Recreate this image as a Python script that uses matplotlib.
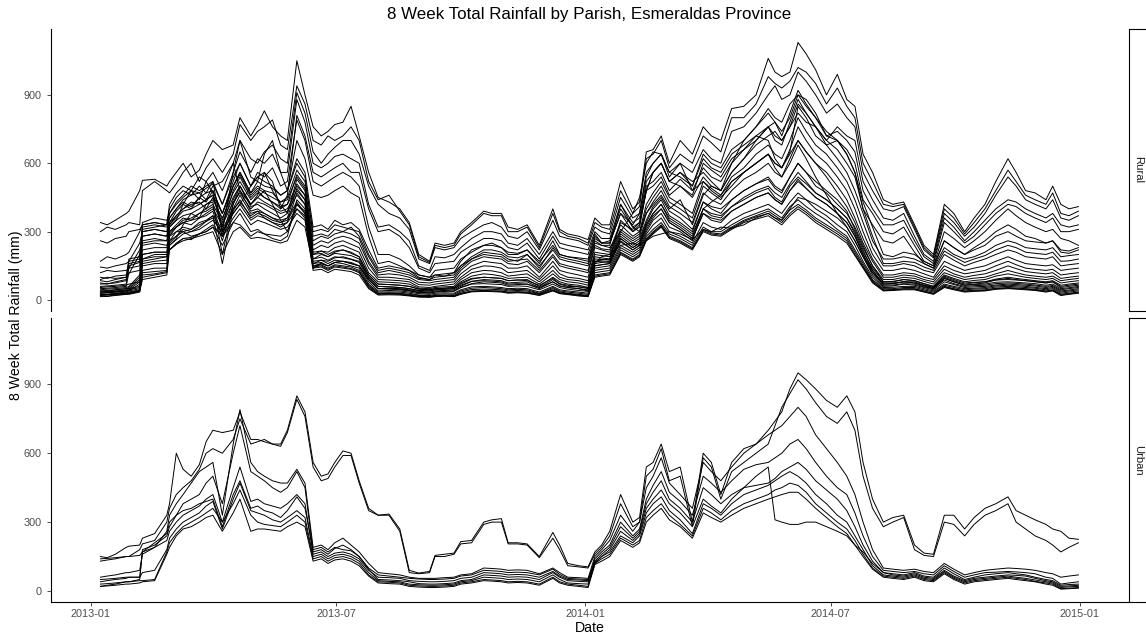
"""8 week total rainfall per parish, Esmeraldas province, faceted rural / urban."""

import matplotlib

matplotlib.use("Agg")
import matplotlib.dates as mdates
import pandas as pd
from matplotlib import pyplot as plt

plt.rcParams["font.family"] = ["Liberation Sans", "DejaVu Sans"]

# sample dates shared by every parish series (10 per row)
DATES = [
    "2013-01-08", "2013-01-13", "2013-01-19", "2013-01-27", "2013-01-29",
    "2013-02-06", "2013-02-08", "2013-02-17", "2013-02-26", "2013-02-28",
    "2013-03-05", "2013-03-10", "2013-03-16", "2013-03-22", "2013-03-27",
    "2013-04-01", "2013-04-08", "2013-04-16", "2013-04-21", "2013-04-29",
    "2013-05-04", "2013-05-09", "2013-05-15", "2013-05-21", "2013-05-26",
    "2013-06-02", "2013-06-08", "2013-06-14", "2013-06-20", "2013-06-25",
    "2013-06-30", "2013-07-06", "2013-07-12", "2013-07-18", "2013-07-25",
    "2013-08-01", "2013-08-09", "2013-08-17", "2013-08-24", "2013-08-31",
    "2013-09-08", "2013-09-12", "2013-09-19", "2013-09-26", "2013-10-01",
    "2013-10-09", "2013-10-18", "2013-10-24", "2013-10-31", "2013-11-05",
    "2013-11-12", "2013-11-19", "2013-11-28", "2013-12-08", "2013-12-13",
    "2013-12-19", "2013-12-27", "2014-01-03", "2014-01-08", "2014-01-13",
    "2014-01-19", "2014-01-27", "2014-02-05", "2014-02-10", "2014-02-15",
    "2014-02-20", "2014-02-26", "2014-03-04", "2014-03-12", "2014-03-21",
    "2014-03-29", "2014-04-04", "2014-04-11", "2014-04-19", "2014-04-28",
    "2014-05-07", "2014-05-16", "2014-05-21", "2014-05-26", "2014-06-01",
    "2014-06-07", "2014-06-13", "2014-06-20", "2014-06-28", "2014-07-06",
    "2014-07-13", "2014-07-19", "2014-07-25", "2014-08-01", "2014-08-09",
    "2014-08-16", "2014-08-24", "2014-09-01", "2014-09-08", "2014-09-15",
    "2014-09-23", "2014-09-30", "2014-10-08", "2014-10-15", "2014-10-23",
    "2014-10-31", "2014-11-09", "2014-11-15", "2014-11-22", "2014-11-29",
    "2014-12-07", "2014-12-12", "2014-12-18", "2014-12-24", "2014-12-31",
]

# ---- rural parishes (mm over the previous 8 weeks) ----
rural_01 = [340, 330, 350, 380, 390, 480, 525, 530, 500, 520,
            560, 600, 540, 570, 640, 700, 660, 680, 800, 720,
            770, 830, 760, 720, 700, 1050, 900, 760, 720, 740,
            770, 780, 850, 720, 560, 450, 430, 400, 340, 200,
            170, 250, 240, 250, 300, 340, 390, 380, 380, 320,
            310, 330, 240, 400, 310, 290, 280, 265, 360, 330,
            330, 520, 400, 430, 650, 660, 720, 600, 700, 640,
            760, 720, 700, 840, 850, 900, 1060, 1000, 980, 1000,
            1130, 1080, 1010, 900, 990, 880, 850, 640, 560, 440,
            420, 430, 330, 240, 200, 420, 380, 300, 360, 420,
            520, 620, 560, 480, 470, 440, 500, 420, 400, 410]
rural_02 = [300, 320, 310, 330, 340, 330, 480, 520, 480, 470,
            510, 560, 600, 520, 580, 620, 560, 640, 770, 700,
            740, 760, 790, 680, 660, 940, 860, 700, 680, 720,
            700, 720, 760, 700, 520, 440, 460, 390, 330, 190,
            165, 240, 230, 240, 290, 330, 380, 370, 370, 300,
            300, 320, 230, 380, 300, 280, 270, 250, 340, 320,
            310, 480, 380, 410, 620, 640, 700, 580, 640, 600,
            720, 690, 650, 800, 800, 860, 980, 950, 930, 960,
            1020, 1000, 950, 860, 930, 850, 800, 600, 520, 420,
            410, 420, 320, 230, 190, 400, 360, 290, 340, 400,
            480, 570, 520, 460, 440, 420, 470, 380, 370, 390]
rural_03 = [260, 250, 270, 280, 300, 310, 330, 340, 330, 420,
            470, 500, 480, 540, 520, 560, 480, 600, 700, 620,
            600, 650, 680, 620, 600, 910, 820, 650, 600, 640,
            670, 700, 700, 640, 500, 420, 380, 360, 310, 180,
            160, 230, 220, 230, 270, 300, 330, 340, 320, 280,
            270, 300, 220, 350, 280, 270, 260, 240, 320, 300,
            290, 450, 360, 380, 560, 600, 640, 540, 600, 560,
            660, 620, 600, 740, 760, 820, 900, 940, 880, 900,
            1000, 960, 900, 820, 860, 800, 760, 560, 480, 400,
            390, 410, 310, 220, 185, 380, 340, 280, 320, 380,
            460, 540, 500, 440, 420, 400, 440, 360, 350, 370]
rural_04 = [170, 190, 180, 200, 210, 300, 330, 340, 330, 400,
            450, 480, 460, 500, 470, 520, 420, 560, 650, 560,
            620, 600, 640, 560, 560, 880, 780, 600, 580, 600,
            630, 640, 620, 600, 420, 320, 330, 300, 260, 150,
            130, 190, 185, 200, 230, 270, 300, 300, 290, 250,
            240, 270, 200, 300, 250, 240, 230, 220, 300, 270,
            270, 420, 340, 360, 520, 560, 600, 520, 560, 520,
            560, 520, 480, 560, 620, 700, 760, 720, 700, 760,
            820, 780, 760, 700, 760, 720, 700, 520, 440, 360,
            350, 380, 280, 200, 170, 360, 320, 260, 300, 350,
            400, 440, 430, 400, 380, 360, 380, 330, 320, 330]
rural_05 = [145, 140, 150, 160, 170, 250, 300, 310, 300, 380,
            420, 450, 480, 470, 440, 500, 520, 600, 480, 420,
            460, 560, 520, 400, 460, 810, 720, 560, 540, 560,
            580, 600, 560, 560, 400, 300, 310, 280, 230, 140,
            120, 160, 165, 170, 210, 240, 270, 270, 260, 230,
            220, 250, 180, 280, 230, 220, 210, 200, 290, 250,
            260, 400, 320, 340, 500, 520, 560, 480, 530, 480,
            580, 540, 520, 600, 660, 700, 760, 780, 740, 800,
            900, 850, 800, 720, 740, 700, 650, 480, 400, 330,
            330, 350, 260, 190, 160, 340, 300, 250, 280, 330,
            380, 420, 410, 380, 360, 340, 360, 300, 300, 310]
rural_06 = [120, 130, 125, 130, 140, 220, 280, 290, 280, 360,
            400, 430, 410, 450, 430, 480, 380, 520, 600, 500,
            560, 540, 580, 500, 520, 790, 700, 520, 500, 520,
            540, 560, 540, 500, 320, 200, 200, 180, 150, 110,
            100, 130, 135, 140, 180, 210, 240, 240, 230, 200,
            200, 220, 160, 260, 200, 190, 185, 180, 280, 250,
            250, 380, 300, 320, 480, 500, 540, 460, 500, 450,
            540, 500, 480, 560, 620, 680, 720, 740, 700, 760,
            860, 820, 760, 680, 700, 660, 600, 440, 380, 300,
            290, 320, 240, 170, 150, 300, 270, 230, 260, 300,
            350, 400, 370, 340, 320, 300, 310, 270, 260, 240]
rural_07 = [100, 95, 105, 110, 115, 200, 250, 260, 260, 340,
            370, 400, 420, 430, 400, 450, 350, 500, 560, 470,
            520, 500, 490, 460, 480, 700, 620, 460, 450, 460,
            480, 500, 470, 450, 280, 160, 170, 150, 130, 100,
            90, 110, 105, 120, 150, 180, 210, 205, 200, 180,
            170, 200, 140, 230, 190, 180, 170, 160, 260, 240,
            240, 420, 320, 300, 380, 420, 460, 400, 440, 330,
            460, 500, 480, 600, 700, 760, 840, 800, 780, 860,
            900, 880, 820, 720, 700, 640, 560, 400, 330, 260,
            250, 280, 210, 160, 140, 260, 230, 200, 230, 260,
            300, 330, 310, 280, 270, 250, 260, 220, 215, 230]
rural_08 = [85, 80, 90, 100, 170, 180, 340, 360, 350, 380,
            430, 460, 500, 480, 500, 520, 300, 560, 700, 540,
            520, 640, 700, 560, 480, 620, 560, 320, 330, 310,
            350, 330, 340, 310, 220, 140, 150, 140, 130, 110,
            100, 110, 115, 120, 170, 220, 240, 250, 230, 210,
            205, 220, 170, 240, 200, 190, 180, 170, 270, 250,
            250, 380, 330, 380, 540, 600, 640, 560, 540, 500,
            640, 600, 580, 660, 700, 760, 820, 780, 720, 820,
            920, 860, 800, 740, 700, 640, 560, 430, 320, 200,
            190, 210, 200, 170, 150, 260, 230, 200, 220, 240,
            280, 300, 280, 260, 255, 250, 260, 210, 205, 220]
rural_09 = [70, 72, 75, 85, 150, 165, 310, 320, 330, 360,
            400, 440, 460, 470, 490, 510, 420, 540, 600, 500,
            540, 520, 500, 460, 480, 600, 540, 280, 290, 280,
            310, 300, 320, 280, 190, 120, 130, 120, 110, 90,
            85, 90, 95, 100, 140, 180, 200, 195, 190, 170,
            175, 180, 130, 200, 160, 150, 140, 130, 240, 225,
            220, 340, 310, 340, 480, 560, 600, 520, 500, 460,
            600, 570, 540, 620, 660, 720, 760, 700, 680, 780,
            880, 820, 760, 700, 660, 600, 540, 400, 280, 160,
            160, 170, 165, 145, 130, 215, 190, 165, 180, 195,
            220, 240, 230, 210, 205, 200, 210, 170, 172, 180]
rural_10 = [90, 100, 95, 100, 180, 190, 320, 330, 320, 340,
            390, 420, 400, 450, 470, 480, 380, 500, 560, 470,
            500, 480, 470, 430, 450, 570, 520, 300, 310, 300,
            330, 320, 310, 300, 200, 130, 140, 130, 120, 95,
            90, 100, 105, 110, 150, 190, 220, 220, 210, 190,
            185, 200, 150, 220, 180, 170, 160, 150, 250, 240,
            230, 300, 380, 450, 600, 650, 640, 560, 600, 480,
            520, 480, 450, 500, 560, 600, 640, 600, 580, 650,
            850, 800, 720, 680, 620, 560, 480, 380, 260, 180,
            180, 190, 180, 160, 140, 230, 200, 180, 190, 210,
            240, 260, 250, 230, 225, 220, 230, 190, 195, 200]
rural_11 = [75, 70, 80, 90, 160, 170, 300, 310, 300, 330,
            370, 400, 430, 420, 440, 460, 320, 480, 540, 450,
            480, 450, 430, 400, 420, 550, 500, 260, 280, 270,
            290, 300, 290, 270, 170, 110, 115, 110, 100, 78,
            75, 80, 85, 90, 130, 170, 190, 185, 180, 160,
            155, 170, 120, 190, 150, 140, 130, 120, 230, 220,
            210, 330, 280, 300, 420, 470, 520, 450, 420, 380,
            520, 490, 460, 540, 580, 640, 680, 640, 620, 700,
            800, 740, 680, 640, 580, 520, 440, 340, 230, 150,
            150, 160, 150, 130, 120, 200, 175, 150, 165, 180,
            200, 220, 210, 190, 185, 180, 190, 150, 155, 160]
rural_12 = [60, 62, 65, 70, 140, 150, 280, 290, 280, 320,
            350, 420, 480, 440, 520, 470, 300, 380, 420, 500,
            540, 560, 480, 420, 380, 530, 480, 240, 260, 250,
            270, 280, 270, 250, 160, 100, 100, 95, 90, 68,
            65, 70, 75, 80, 115, 150, 170, 165, 160, 140,
            140, 150, 100, 170, 130, 120, 110, 100, 210, 205,
            200, 310, 270, 290, 400, 450, 500, 430, 400, 360,
            500, 470, 440, 520, 560, 600, 640, 600, 580, 660,
            760, 700, 640, 600, 540, 480, 400, 300, 200, 130,
            130, 140, 130, 115, 100, 170, 150, 130, 140, 150,
            170, 190, 175, 160, 155, 150, 155, 130, 135, 140]
rural_13 = [50, 52, 55, 60, 120, 130, 260, 270, 260, 300,
            330, 360, 350, 380, 390, 410, 280, 440, 500, 410,
            420, 400, 380, 360, 380, 510, 460, 220, 240, 230,
            250, 260, 245, 230, 140, 90, 88, 85, 80, 58,
            55, 60, 65, 70, 100, 135, 150, 148, 140, 120,
            125, 130, 90, 150, 115, 100, 95, 85, 200, 195,
            190, 300, 260, 280, 380, 430, 480, 410, 380, 340,
            470, 440, 420, 480, 530, 560, 600, 560, 540, 620,
            700, 650, 600, 560, 500, 440, 360, 270, 180, 110,
            110, 120, 115, 100, 90, 150, 130, 115, 122, 130,
            150, 170, 155, 140, 135, 130, 135, 110, 115, 120]
rural_14 = [45, 48, 50, 55, 60, 110, 240, 250, 240, 280,
            320, 340, 330, 360, 370, 390, 260, 420, 480, 390,
            400, 380, 360, 340, 360, 490, 440, 200, 215, 210,
            230, 240, 225, 210, 120, 80, 78, 75, 70, 52,
            50, 55, 58, 60, 90, 120, 130, 128, 120, 105,
            110, 115, 80, 130, 100, 90, 85, 75, 190, 185,
            180, 350, 300, 330, 480, 560, 600, 520, 560, 500,
            620, 580, 560, 640, 680, 720, 700, 620, 580, 640,
            700, 650, 600, 540, 470, 410, 340, 250, 170, 100,
            100, 110, 105, 90, 80, 135, 115, 100, 108, 115,
            130, 150, 138, 125, 120, 115, 120, 95, 100, 105]
rural_15 = [40, 38, 45, 50, 55, 100, 220, 230, 230, 260,
            300, 320, 310, 340, 350, 370, 160, 400, 460, 380,
            390, 360, 340, 320, 340, 470, 420, 180, 200, 190,
            210, 220, 205, 190, 110, 70, 68, 65, 60, 48,
            45, 50, 52, 55, 80, 105, 115, 112, 105, 95,
            98, 100, 70, 115, 90, 80, 75, 65, 180, 178,
            175, 280, 240, 260, 340, 400, 440, 370, 340, 300,
            430, 400, 380, 440, 480, 510, 530, 490, 470, 540,
            600, 560, 520, 480, 440, 390, 310, 230, 150, 90,
            90, 100, 95, 82, 70, 120, 105, 90, 96, 100,
            115, 130, 120, 110, 105, 100, 105, 85, 90, 95]
rural_16 = [35, 36, 40, 45, 50, 90, 200, 210, 210, 240,
            270, 330, 380, 360, 420, 430, 200, 420, 500, 420,
            450, 480, 420, 350, 300, 400, 360, 160, 175, 170,
            185, 190, 180, 170, 100, 60, 58, 55, 50, 42,
            40, 45, 47, 50, 70, 92, 100, 98, 95, 85,
            88, 90, 60, 100, 80, 70, 65, 55, 170, 168,
            165, 270, 230, 250, 330, 380, 420, 350, 320, 280,
            400, 370, 360, 410, 440, 470, 490, 450, 430, 500,
            540, 510, 470, 440, 400, 360, 290, 210, 140, 80,
            80, 90, 85, 72, 60, 110, 95, 80, 86, 90,
            105, 115, 108, 100, 95, 90, 95, 75, 80, 85]
rural_17 = [30, 32, 35, 40, 45, 80, 180, 200, 200, 220,
            245, 260, 270, 280, 290, 300, 200, 300, 320, 270,
            275, 270, 260, 250, 260, 350, 320, 150, 160, 150,
            165, 170, 160, 150, 90, 50, 52, 50, 45, 38,
            35, 40, 42, 45, 60, 82, 90, 88, 85, 75,
            78, 80, 55, 90, 70, 60, 58, 50, 160, 190,
            200, 240, 250, 240, 260, 280, 290, 300, 290, 265,
            310, 300, 320, 315, 330, 360, 380, 360, 350, 400,
            450, 440, 420, 390, 360, 320, 260, 190, 120, 75,
            75, 80, 80, 66, 55, 100, 85, 70, 76, 80,
            92, 100, 95, 90, 85, 80, 85, 65, 70, 75]
rural_18 = [25, 26, 30, 35, 40, 70, 170, 180, 190, 220,
            250, 270, 265, 290, 300, 320, 240, 340, 380, 300,
            310, 290, 285, 280, 300, 420, 380, 140, 160, 150,
            165, 170, 160, 150, 90, 50, 48, 45, 40, 32,
            30, 35, 38, 40, 55, 72, 80, 78, 75, 65,
            68, 70, 50, 80, 62, 55, 50, 40, 150, 155,
            160, 260, 220, 240, 320, 370, 400, 340, 310, 270,
            380, 350, 340, 390, 420, 450, 470, 440, 420, 480,
            520, 490, 450, 420, 380, 340, 280, 200, 130, 70,
            72, 80, 75, 62, 50, 95, 80, 65, 70, 75,
            88, 95, 90, 85, 80, 75, 80, 60, 65, 70]
rural_19 = [20, 22, 25, 30, 30, 40, 150, 160, 160, 300,
            320, 340, 350, 360, 380, 400, 330, 430, 470, 400,
            430, 420, 400, 380, 390, 460, 420, 170, 175, 160,
            175, 170, 165, 150, 80, 40, 42, 40, 35, 28,
            25, 30, 32, 30, 45, 58, 60, 58, 55, 50,
            52, 50, 35, 60, 45, 40, 35, 30, 140, 145,
            150, 240, 210, 230, 300, 350, 380, 320, 300, 260,
            400, 430, 460, 520, 560, 600, 640, 580, 540, 600,
            680, 620, 540, 460, 380, 320, 260, 190, 110, 60,
            62, 70, 65, 55, 45, 80, 68, 55, 58, 60,
            66, 70, 68, 65, 62, 55, 60, 40, 44, 50]
rural_20 = [30, 33, 35, 40, 40, 50, 130, 140, 140, 280,
            300, 300, 280, 290, 300, 320, 280, 340, 330, 280,
            300, 290, 270, 260, 280, 440, 400, 160, 165, 150,
            165, 160, 150, 140, 70, 35, 36, 35, 30, 22,
            20, 25, 27, 25, 40, 52, 55, 53, 50, 45,
            47, 45, 30, 55, 40, 35, 30, 25, 130, 135,
            140, 230, 200, 220, 290, 330, 360, 300, 280, 250,
            340, 320, 310, 350, 380, 400, 420, 400, 380, 430,
            470, 440, 400, 370, 330, 300, 240, 170, 100, 55,
            56, 60, 60, 50, 40, 70, 60, 50, 52, 55,
            62, 65, 63, 60, 56, 50, 55, 35, 40, 45]
rural_21 = [15, 16, 20, 25, 25, 35, 120, 125, 130, 260,
            280, 300, 310, 330, 345, 360, 290, 390, 440, 360,
            380, 370, 350, 340, 350, 420, 390, 150, 155, 140,
            155, 150, 145, 130, 65, 30, 32, 30, 25, 20,
            18, 20, 22, 20, 35, 46, 48, 47, 45, 40,
            42, 40, 28, 50, 36, 30, 25, 20, 120, 125,
            130, 220, 190, 210, 280, 310, 340, 290, 270, 240,
            320, 300, 300, 330, 360, 380, 400, 380, 360, 410,
            440, 410, 380, 350, 310, 280, 220, 160, 90, 50,
            50, 55, 55, 45, 35, 65, 55, 45, 48, 50,
            57, 60, 58, 55, 52, 45, 50, 30, 35, 40]
rural_22 = [40, 42, 45, 50, 50, 60, 180, 190, 190, 320,
            350, 370, 380, 400, 420, 440, 360, 470, 520, 440,
            470, 450, 430, 410, 420, 500, 460, 200, 205, 190,
            205, 200, 195, 180, 100, 60, 58, 55, 50, 42,
            40, 45, 48, 50, 65, 82, 85, 83, 80, 70,
            72, 70, 55, 80, 62, 55, 50, 45, 160, 165,
            170, 270, 230, 250, 330, 380, 420, 360, 330, 290,
            400, 380, 370, 410, 450, 480, 500, 470, 450, 510,
            560, 520, 470, 440, 400, 360, 300, 220, 130, 70,
            72, 80, 75, 64, 55, 95, 80, 65, 68, 70,
            78, 80, 78, 75, 72, 65, 70, 50, 54, 60]
rural_23 = [25, 24, 28, 32, 35, 45, 100, 110, 120, 240,
            265, 290, 300, 310, 330, 350, 300, 380, 420, 350,
            370, 360, 340, 330, 340, 400, 370, 140, 145, 130,
            145, 140, 135, 120, 60, 28, 29, 28, 22, 16,
            15, 18, 20, 18, 30, 40, 42, 41, 40, 35,
            37, 35, 25, 45, 32, 28, 22, 18, 110, 115,
            120, 210, 180, 200, 270, 300, 330, 280, 260, 230,
            310, 295, 290, 320, 350, 370, 390, 370, 350, 395,
            420, 395, 360, 330, 300, 270, 210, 150, 85, 45,
            46, 50, 50, 40, 30, 60, 50, 40, 43, 45,
            52, 55, 53, 50, 47, 40, 45, 25, 30, 35]
rural_24 = [55, 58, 60, 65, 70, 80, 200, 210, 210, 330,
            360, 390, 400, 420, 440, 460, 380, 500, 550, 460,
            490, 470, 450, 430, 440, 540, 490, 210, 215, 200,
            215, 220, 210, 190, 110, 70, 68, 65, 60, 48,
            45, 50, 52, 55, 75, 95, 100, 98, 95, 85,
            88, 85, 65, 95, 72, 65, 58, 55, 170, 175,
            180, 290, 250, 270, 350, 410, 450, 390, 360, 310,
            430, 410, 400, 440, 480, 510, 540, 500, 480, 540,
            600, 560, 500, 470, 420, 380, 320, 240, 150, 80,
            82, 90, 85, 72, 60, 105, 90, 75, 78, 80,
            88, 90, 88, 85, 82, 75, 80, 55, 60, 65]
rural_25 = [18, 17, 22, 26, 28, 38, 90, 100, 110, 220,
            245, 270, 275, 290, 310, 330, 280, 360, 400, 330,
            350, 340, 325, 310, 320, 380, 350, 130, 135, 120,
            135, 130, 125, 110, 50, 22, 23, 22, 18, 13,
            12, 15, 17, 15, 25, 36, 38, 37, 35, 30,
            32, 30, 20, 40, 28, 24, 18, 15, 100, 105,
            110, 200, 170, 190, 260, 290, 320, 270, 250, 220,
            300, 285, 280, 310, 340, 355, 370, 350, 330, 370,
            400, 375, 340, 310, 280, 250, 195, 140, 75, 40,
            42, 45, 45, 35, 25, 55, 45, 35, 38, 40,
            47, 50, 48, 45, 42, 35, 40, 20, 25, 30]
rural_26 = [35, 36, 38, 42, 45, 55, 160, 170, 175, 290,
            320, 350, 360, 380, 400, 420, 340, 450, 500, 420,
            450, 430, 410, 390, 400, 480, 440, 180, 188, 175,
            190, 185, 178, 165, 90, 50, 50, 48, 42, 34,
            32, 36, 40, 38, 55, 70, 72, 70, 68, 60,
            62, 60, 45, 70, 55, 48, 42, 38, 150, 155,
            160, 255, 220, 240, 310, 360, 400, 340, 310, 270,
            380, 360, 350, 390, 420, 450, 470, 440, 420, 480,
            530, 490, 450, 420, 380, 340, 280, 200, 120, 65,
            66, 72, 70, 58, 50, 88, 72, 60, 63, 65,
            72, 75, 73, 70, 66, 60, 64, 45, 50, 55]
rural_27 = [22, 24, 26, 30, 32, 42, 110, 115, 125, 250,
            280, 310, 300, 320, 345, 370, 310, 400, 430, 370,
            390, 380, 360, 350, 360, 430, 380, 145, 150, 135,
            150, 145, 138, 125, 55, 25, 26, 25, 20, 15,
            14, 16, 18, 16, 28, 38, 40, 39, 38, 33,
            34, 32, 22, 42, 30, 26, 20, 16, 105, 110,
            115, 205, 175, 195, 265, 295, 325, 275, 255, 225,
            305, 290, 285, 315, 345, 365, 380, 360, 340, 380,
            410, 385, 350, 320, 290, 260, 200, 145, 80, 42,
            44, 48, 48, 38, 28, 58, 48, 38, 40, 42,
            50, 52, 50, 48, 44, 38, 42, 22, 27, 32]

# ---- urban parishes ----
urban_01 = [150, 145, 160, 190, 195, 200, 230, 250, 330, 380,
            600, 530, 500, 550, 650, 700, 690, 700, 780, 660,
            660, 650, 640, 640, 700, 850, 780, 560, 500, 510,
            560, 610, 600, 480, 360, 330, 335, 270, 90, 78,
            85, 155, 160, 165, 215, 220, 300, 310, 315, 210,
            210, 205, 150, 255, 200, 120, 110, 105, 170, 200,
            260, 420, 300, 320, 540, 560, 640, 520, 540, 300,
            600, 560, 420, 560, 620, 640, 700, 740, 780, 880,
            950, 920, 880, 830, 800, 850, 780, 560, 400, 300,
            320, 330, 200, 165, 160, 330, 330, 270, 320, 360,
            380, 410, 350, 330, 310, 290, 270, 260, 230, 225]
urban_02 = [140, 142, 145, 150, 150, 180, 205, 220, 300, 360,
            420, 450, 480, 530, 600, 620, 600, 660, 750, 640,
            650, 660, 640, 630, 690, 835, 760, 540, 480, 490,
            540, 590, 590, 470, 350, 330, 330, 260, 80, 75,
            80, 150, 150, 160, 205, 210, 290, 300, 300, 205,
            205, 200, 145, 230, 180, 110, 105, 100, 160, 190,
            240, 380, 280, 300, 500, 530, 620, 480, 500, 280,
            580, 540, 400, 520, 560, 600, 640, 720, 800, 860,
            920, 880, 820, 760, 730, 780, 700, 500, 360, 280,
            300, 320, 180, 155, 150, 300, 290, 240, 290, 330,
            350, 380, 300, 270, 240, 220, 200, 170, 190, 210]
urban_03 = [60, 65, 70, 80, 80, 90, 160, 190, 260, 330,
            380, 420, 470, 520, 540, 560, 330, 640, 790, 560,
            520, 500, 480, 470, 470, 530, 470, 190, 200, 180,
            210, 230, 200, 170, 120, 80, 75, 70, 60, 55,
            55, 55, 58, 60, 70, 75, 100, 98, 95, 90,
            92, 90, 75, 100, 80, 60, 58, 55, 150, 180,
            220, 330, 260, 300, 450, 500, 580, 470, 420, 360,
            560, 520, 480, 540, 600, 640, 680, 700, 720, 760,
            800, 760, 680, 620, 560, 500, 420, 300, 180, 100,
            95, 90, 95, 85, 80, 120, 95, 70, 80, 90,
            95, 100, 98, 95, 90, 80, 75, 60, 65, 70]
urban_04 = [20, 25, 30, 40, 40, 50, 180, 200, 240, 280,
            330, 380, 400, 420, 470, 500, 380, 600, 720, 520,
            500, 480, 450, 430, 450, 520, 450, 170, 180, 160,
            185, 200, 180, 150, 95, 50, 48, 45, 40, 32,
            30, 30, 32, 35, 45, 50, 70, 68, 65, 60,
            62, 60, 50, 80, 60, 45, 42, 40, 140, 170,
            200, 300, 240, 270, 400, 460, 520, 430, 390, 330,
            500, 470, 430, 480, 530, 550, 560, 580, 600, 640,
            660, 620, 560, 500, 450, 420, 340, 240, 150, 90,
            85, 80, 85, 75, 70, 110, 85, 60, 70, 80,
            82, 85, 83, 80, 75, 60, 55, 30, 35, 40]
urban_05 = [40, 45, 50, 55, 60, 60, 170, 190, 220, 260,
            300, 330, 350, 370, 400, 420, 300, 450, 540, 390,
            400, 380, 370, 360, 380, 420, 380, 160, 170, 150,
            165, 170, 160, 140, 90, 60, 58, 55, 45, 42,
            40, 40, 42, 45, 55, 60, 80, 78, 75, 70,
            72, 70, 60, 85, 65, 50, 48, 45, 130, 160,
            190, 280, 230, 260, 380, 430, 480, 400, 360, 300,
            450, 420, 380, 420, 450, 460, 470, 490, 520, 540,
            560, 530, 480, 440, 400, 350, 280, 200, 130, 80,
            75, 70, 80, 65, 60, 100, 75, 50, 60, 70,
            75, 80, 75, 70, 60, 50, 45, 25, 28, 30]
urban_06 = [130, 135, 140, 150, 150, 155, 170, 210, 250, 300,
            330, 350, 360, 380, 390, 400, 280, 420, 480, 360,
            370, 350, 340, 320, 350, 410, 360, 180, 190, 170,
            190, 180, 175, 150, 100, 70, 65, 60, 55, 52,
            50, 50, 52, 55, 65, 70, 90, 88, 85, 80,
            82, 80, 70, 95, 72, 55, 52, 50, 120, 150,
            180, 260, 220, 250, 360, 400, 440, 380, 340, 280,
            400, 370, 340, 400, 450, 500, 540, 310, 300, 290,
            290, 300, 300, 280, 260, 240, 200, 170, 120, 80,
            70, 65, 75, 60, 55, 90, 65, 45, 55, 60,
            65, 70, 68, 65, 55, 45, 40, 20, 22, 25]
urban_07 = [50, 52, 55, 60, 60, 60, 80, 90, 180, 230,
            270, 300, 320, 340, 370, 390, 270, 400, 470, 350,
            340, 330, 310, 300, 320, 350, 320, 150, 160, 140,
            155, 160, 150, 130, 80, 45, 42, 40, 30, 27,
            25, 25, 27, 30, 40, 45, 60, 58, 55, 50,
            52, 50, 40, 70, 50, 35, 32, 30, 125, 150,
            170, 240, 210, 240, 340, 380, 410, 350, 310, 250,
            380, 360, 330, 380, 420, 440, 460, 480, 500, 520,
            500, 470, 420, 380, 330, 300, 240, 180, 110, 70,
            65, 60, 70, 55, 50, 85, 60, 40, 50, 55,
            60, 65, 60, 55, 48, 40, 35, 15, 18, 20]
urban_08 = [30, 32, 35, 40, 40, 45, 45, 50, 170, 210,
            250, 280, 300, 320, 340, 360, 300, 380, 440, 330,
            300, 290, 285, 280, 300, 330, 300, 140, 150, 130,
            145, 150, 140, 120, 70, 40, 38, 35, 25, 22,
            20, 20, 22, 25, 35, 40, 50, 48, 45, 40,
            42, 40, 30, 60, 40, 30, 25, 20, 120, 140,
            160, 230, 200, 220, 320, 350, 380, 330, 290, 240,
            360, 340, 310, 350, 380, 400, 420, 440, 450, 470,
            460, 430, 380, 340, 300, 270, 220, 160, 100, 65,
            60, 55, 65, 50, 45, 80, 55, 35, 45, 50,
            55, 60, 55, 50, 42, 35, 30, 10, 12, 15]
urban_09 = [20, 22, 25, 30, 30, 35, 40, 45, 160, 190,
            240, 270, 280, 300, 320, 330, 260, 340, 400, 260,
            270, 270, 265, 260, 280, 300, 280, 130, 140, 120,
            135, 140, 130, 110, 65, 35, 32, 30, 20, 17,
            15, 15, 17, 20, 30, 35, 45, 43, 40, 35,
            37, 35, 25, 55, 35, 25, 20, 15, 115, 130,
            150, 220, 190, 210, 300, 330, 360, 310, 280, 230,
            340, 320, 300, 330, 360, 380, 400, 410, 420, 430,
            430, 400, 360, 320, 280, 250, 200, 150, 95, 60,
            55, 50, 60, 45, 40, 75, 50, 30, 40, 45,
            50, 55, 50, 45, 40, 30, 25, 8, 10, 12]

RURAL = [rural_01, rural_02, rural_03, rural_04, rural_05, rural_06, rural_07,
         rural_08, rural_09, rural_10, rural_11, rural_12, rural_13, rural_14,
         rural_15, rural_16, rural_17, rural_18, rural_19, rural_20, rural_21,
         rural_22, rural_23, rural_24, rural_25, rural_26, rural_27]
URBAN = [urban_01, urban_02, urban_03, urban_04, urban_05, urban_06, urban_07,
         urban_08, urban_09]

Y_TICKS = [0, 300, 600, 900]
X_TICKS = ["2013-01-01", "2013-07-01", "2014-01-01", "2014-07-01", "2015-01-01"]

W, H = 1146, 641
TICK_GREY = "#4D4D4D"


def style_panel(ax, show_x_axis):
    """theme_classic look: left/bottom axis lines only, no grid."""
    origin = mdates.date2num(pd.Timestamp("2013-01-01"))
    ax.set_xlim(origin - 29.5, origin + 765.6)
    ax.set_ylim(-48, 1189)
    ax.set_yticks(Y_TICKS)
    ax.set_xticks(pd.to_datetime(X_TICKS))
    ax.xaxis.set_major_formatter(mdates.DateFormatter("%Y-%m"))
    for side in ["top", "right"]:
        ax.spines[side].set_visible(False)
    for side in ["left", "bottom"]:
        ax.spines[side].set_linewidth(0.8)
    ax.tick_params(axis="both", labelsize=7.8, labelcolor=TICK_GREY,
                   color="#333333", length=3, width=0.6)
    ax.tick_params(axis="y", pad=3.5)
    ax.tick_params(axis="x", pad=2)
    if not show_x_axis:
        ax.spines["bottom"].set_visible(False)
        ax.tick_params(axis="x", bottom=False, labelbottom=False)


def add_strip(fig, top_px, bottom_px, label):
    """Facet label box on the right of a panel."""
    sax = fig.add_axes([1129 / W, 1 - bottom_px / H, 20 / W, (bottom_px - top_px) / H])
    sax.set_xticks([])
    sax.set_yticks([])
    for spine in sax.spines.values():
        spine.set_linewidth(0.8)
    sax.text(0.45, 0.5, label, rotation=270, ha="center", va="center",
             transform=sax.transAxes, fontsize=8.1, color="#1A1A1A")


def main():
    dates = pd.to_datetime(DATES)
    fig = plt.figure(figsize=(W / 100, H / 100), dpi=100)

    panels = [
        ("Rural", RURAL, 29, 311, False),
        ("Urban", URBAN, 318, 602, True),
    ]
    for label, series, top_px, bottom_px, show_x in panels:
        ax = fig.add_axes([51 / W, 1 - bottom_px / H, (1128 - 51) / W,
                           (bottom_px - top_px) / H])
        for values in series:
            ax.plot(dates, values, color="black", linewidth=0.7)
        style_panel(ax, show_x)
        add_strip(fig, top_px, bottom_px, label)

    fig.text(589.5 / W, 1 - 15 / H, "8 Week Total Rainfall by Parish, Esmeraldas Province",
             ha="center", va="center", fontsize=12.2)
    fig.text(16.5 / W, 1 - 315 / H, "8 Week Total Rainfall (mm)", rotation=90,
             ha="center", va="center", fontsize=10.2)
    fig.text(589.5 / W, 1 - 628 / H, "Date", ha="center", va="center", fontsize=10.2)

    fig.savefig("out.png", dpi=100)


if __name__ == "__main__":
    main()
